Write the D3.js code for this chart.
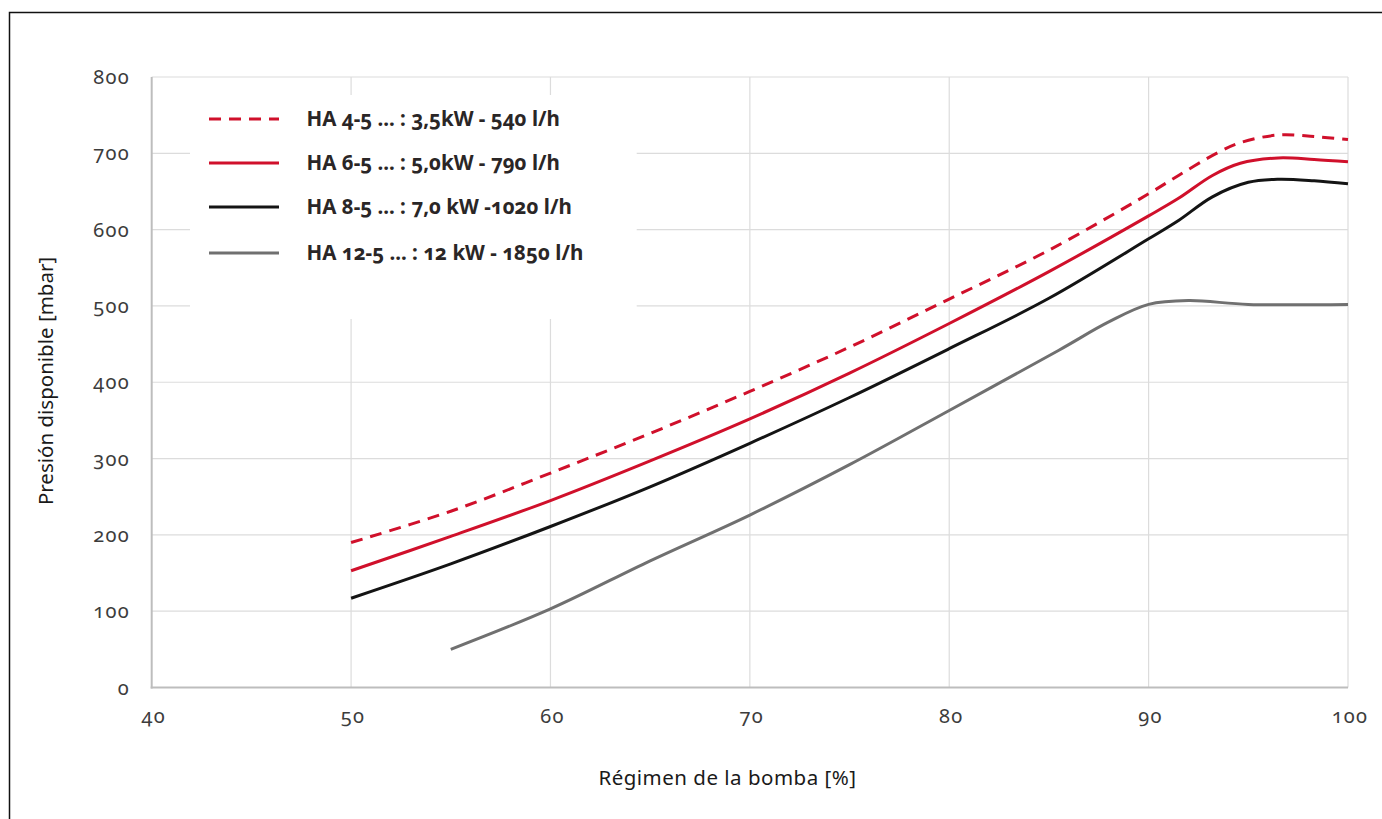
<!DOCTYPE html>
<html><head><meta charset="utf-8">
<script src="https://cdn.jsdelivr.net/npm/d3@7"></script>
<style>
html,body{margin:0;padding:0;background:#fff;}
svg{display:block;font-family:"Noto Sans",sans-serif;}
.num{font-variant-numeric:oldstyle-nums;font-feature-settings:"onum" 1;}
</style></head><body>
<svg id="c" width="1382" height="819"></svg>
<script>
const xTicks = [40,50,60,70,80,90,100];
const yTicks = [0,100,200,300,400,500,600,700,800];
const seriesNames = ["HA 4-5 ... : 3,5kW - 540 l/h","HA 6-5 ... : 5,0kW - 790 l/h","HA 8-5 ... : 7,0 kW -1020 l/h","HA 12-5 ... : 12 kW - 1850 l/h"];
const seriesColors = ["#d0102b","#d0102b","#141414","#707070"];
const seriesDash = ["12,8",null,null,null];
const ha4x = [50,55,60,65,70,75,80,85,90,91.5,93.4,94.6,96.5,98.3,100];
const ha4y = [190,231,281,333,388,446,509,573,647,671,700,714,724,722,718];
const ha6x = [50,55,60,65,70,75,80,85,90,91.5,93.2,94.6,96.5,98.3,100];
const ha6y = [153,198,245,297,352,412,477,545,618,641,671,687,694,692,689];
const ha8x = [50,55,60,65,70,75,80,85,90,91.5,93.2,95,96.5,98.3,100];
const ha8y = [117,162,211,263,320,380,444,510,588,612,643,662,666,664,660];
const ha12x = [55,60,65,70,75,80,85.5,88,90,92,95,100];
const ha12y = [50,103,166,226,292,363,442,479,502,507,502,502];
const xTitle = "Régimen de la bomba [%]";
const yTitle = "Presión disponible [mbar]";

const svg = d3.select("#c");
const x = d3.scaleLinear().domain([40,100]).range([151.7,1348]);
const y = d3.scaleLinear().domain([0,800]).range([687.5,77]);

// frame
svg.append("path").attr("d","M9.5,819V12.5H1382").attr("fill","none").attr("stroke","#111").attr("stroke-width",1.5);

// grid
const g = svg.append("g");
g.selectAll(".hg").data(yTicks.filter(d=>d>0)).join("line")
  .attr("x1",x(40)).attr("x2",x(100)).attr("y1",d=>y(d)).attr("y2",d=>y(d))
  .attr("stroke","#dcdcdc").attr("stroke-width",1.2);
g.selectAll(".vg").data(xTicks.filter(d=>d>40)).join("line")
  .attr("x1",d=>x(d)).attr("x2",d=>x(d)).attr("y1",y(800)).attr("y2",y(0))
  .attr("stroke","#dcdcdc").attr("stroke-width",1.2);

// axes lines
svg.append("line").attr("x1",x(40)).attr("x2",x(40)).attr("y1",y(800)).attr("y2",y(0)+1).attr("stroke","#bdbdbd").attr("stroke-width",2);
svg.append("line").attr("x1",x(40)-1).attr("x2",x(100)).attr("y1",y(0)).attr("y2",y(0)).attr("stroke","#bdbdbd").attr("stroke-width",2);

// tick labels
svg.append("g").selectAll("text").data(yTicks).join("text").attr("class","num")
  .attr("x",130).attr("y",d=>y(d)).attr("dy","0.35em").attr("text-anchor","end")
  .attr("font-size",20).attr("fill","#3c3c3c").attr("letter-spacing",1.3).text(d=>d);
svg.append("g").selectAll("text").data(xTicks).join("text").attr("class","num")
  .attr("x",d=>x(d)+2).attr("y",716).attr("dy","0.35em").attr("text-anchor","middle")
  .attr("font-size",20).attr("fill","#3c3c3c").attr("letter-spacing",1.3).text(d=>d);

// titles
svg.append("text").attr("x",727.5).attr("y",778).attr("dy","0.35em").attr("text-anchor","middle")
  .attr("font-size",20.5).attr("fill","#1a1a1a").attr("letter-spacing",0.5).text(xTitle);
svg.append("text").attr("transform","translate(46,381) rotate(-90)").attr("dy","0.35em").attr("text-anchor","middle")
  .attr("font-size",20.5).attr("fill","#1a1a1a").text(yTitle);

// legend background
svg.append("rect").attr("x",190).attr("y",95).attr("width",446.7).attr("height",224).attr("fill","#fff");

// lines
const series = [[ha4x,ha4y],[ha6x,ha6y],[ha8x,ha8y],[ha12x,ha12y]];
const line = d3.line().x(d=>x(d[0])).y(d=>y(d[1])).curve(d3.curveCatmullRom.alpha(0.5));
const order = [3,2,1,0];
order.forEach(i=>{
  const pts = series[i][0].map((v,k)=>[v,series[i][1][k]]);
  svg.append("path").attr("d",line(pts)).attr("fill","none")
    .attr("stroke",seriesColors[i]).attr("stroke-width",3)
    .attr("stroke-dasharray",seriesDash[i]);
});

// legend
const legY = [119,163,207,253];
const lg = svg.append("g");
seriesNames.forEach((n,i)=>{
  lg.append("line").attr("x1",209).attr("x2",279).attr("y1",legY[i]).attr("y2",legY[i])
    .attr("stroke",seriesColors[i]).attr("stroke-width",3).attr("stroke-dasharray",seriesDash[i]);
  lg.append("text").attr("class","num").attr("x",306.5).attr("y",legY[i]).attr("dy","0.35em")
    .attr("font-size",20.5).attr("font-weight","bold").attr("fill","#2a2626").text(n);
});
</script>
</body></html>
